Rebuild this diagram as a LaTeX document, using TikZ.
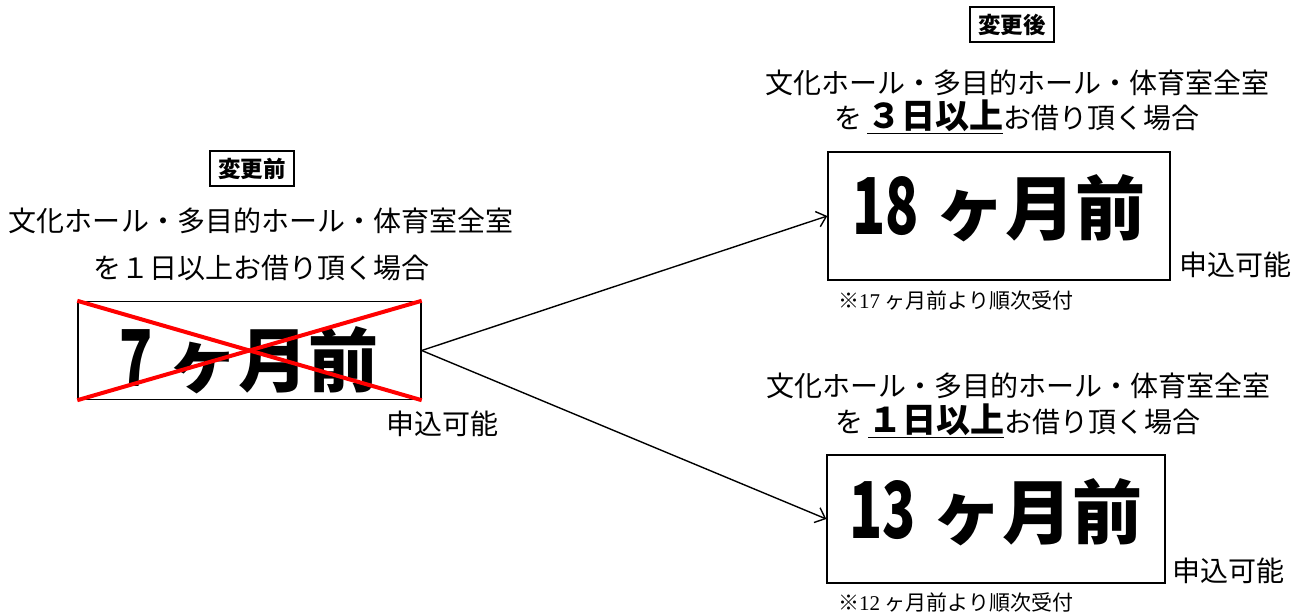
\documentclass[tikz,border=0pt]{standalone}
\usepackage{fontspec}
\setmainfont{Liberation Serif}
\newfontfamily\cjk{Noto Sans CJK JP}
\usetikzlibrary{arrows.meta}
\newcommand{\digs}[1]{\scalebox{0.78}[1.12]{#1}}
\begin{document}
\begin{tikzpicture}[x=1pt,y=-1pt,
  tagbox/.style={draw, line width=1.2pt, inner sep=0pt, minimum width=84pt, minimum height=35pt,
    font=\cjk\bfseries\fontsize{22.5}{22.5}\selectfont},
  body/.style={inner sep=0pt, font=\cjk\fontsize{28}{28}\selectfont},
  note/.style={inner sep=0pt, anchor=west, font=\cjk\fontsize{21}{21}\selectfont},
  bigbox/.style={draw, line width=1.4pt, inner sep=0pt},
  bigtext/.style={inner sep=0pt, font=\cjk\bfseries\fontsize{70}{70}\selectfont},
  arr/.style={line width=1.4pt, -{Straight Barb[length=9pt,width=16pt,line width=1.4pt]}},
  cross/.style={red, line width=4pt}
]
\useasboundingbox (0,0) rectangle (1305,612);

% ---- before ----
\node[tagbox] (tag0) at (252,168.5) {変更前};
\node[body] (l0a) at (261,221) {文化ホール・多目的ホール・体育室全室};
\node[body] (l0b) at (261,268) {を１日以上お借り頂く場合};
\node[bigbox, minimum width=343pt, minimum height=98pt] (b0) at (249.5,350.5) {};
\node[bigtext] (t0) at (249,360) {\digs{7} ヶ月前};
\draw[cross] (b0.north west) -- (b0.south east);
\draw[cross] (b0.south west) -- (b0.north east);
\node[body] (m0) at (442,424) {申込可能};

% ---- after ----
\node[tagbox] (tag1) at (1012,24.5) {変更後};
\node[body] (l1a) at (1017,83) {文化ホール・多目的ホール・体育室全室};
\node[body] (l1b) at (1017,117) {を\,{\bfseries\fontsize{34}{34}\selectfont\underline{３日以上}}お借り頂く場合};
\node[bigbox, minimum width=342pt, minimum height=128pt] (b1) at (999,216) {};
\node[bigtext] (t1) at (999,208) {\digs{18} ヶ月前};
\node[body] (m1) at (1235,265) {申込可能};
\node[note] (n1) at (838,300) {※{\rmfamily 17} ヶ月前より順次受付};

\node[body] (l2a) at (1018,386) {文化ホール・多目的ホール・体育室全室};
\node[body] (l2b) at (1018,421) {を\,{\bfseries\fontsize{34}{34}\selectfont\underline{１日以上}}お借り頂く場合};
\node[bigbox, minimum width=338pt, minimum height=128pt] (b2) at (996,519) {};
\node[bigtext] (t2) at (996,512) {\digs{13} ヶ月前};
\node[body] (m2) at (1228,571) {申込可能};
\node[note] (n2) at (838,602) {※{\rmfamily 12} ヶ月前より順次受付};

% ---- arrows ----
\draw[arr] (b0.east) -- (b1.west);
\draw[arr] (b0.east) -- (b2.west);
\end{tikzpicture}
\end{document}
